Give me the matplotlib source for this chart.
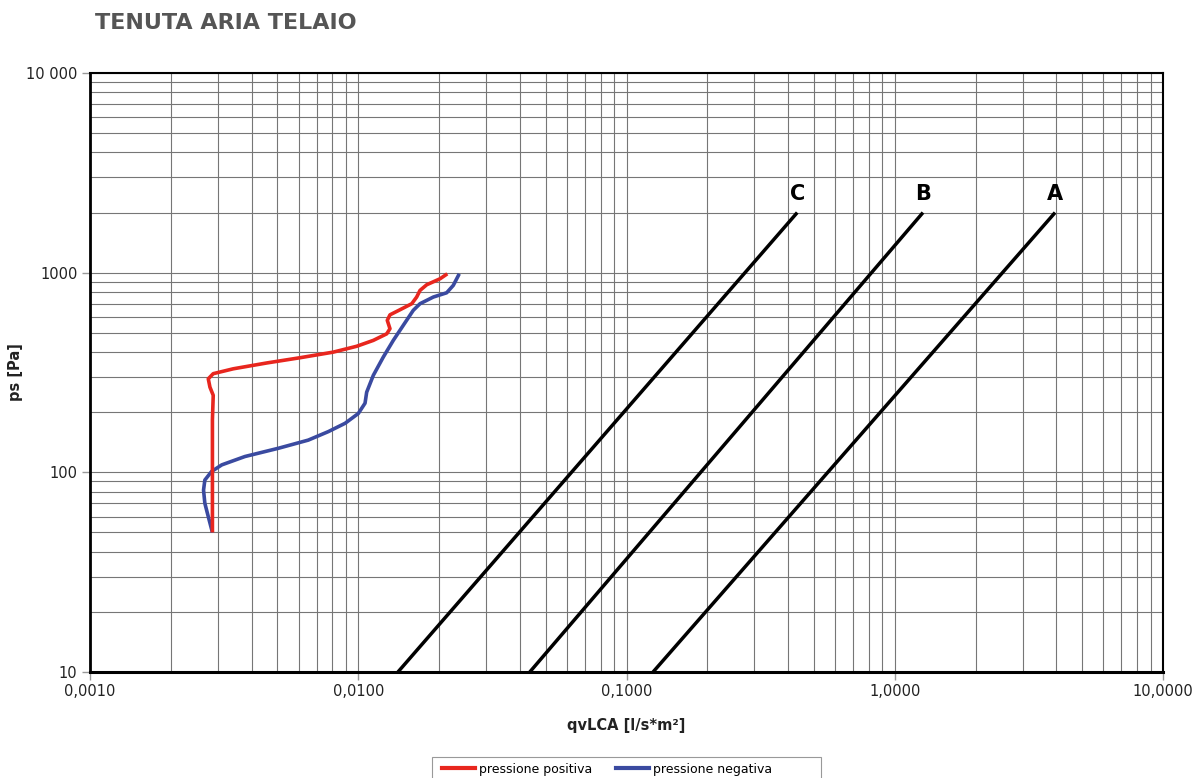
import matplotlib
matplotlib.use("Agg")
import matplotlib.pyplot as plt
from matplotlib.ticker import LogLocator, FixedLocator, NullFormatter
from matplotlib.lines import Line2D
from matplotlib.patches import Rectangle

plt.rcParams['font.family'] = ['DejaVu Sans']

# Measured leakage curves (flow qvLCA vs pressure ps)
pos_q = [0.00286, 0.00286, 0.00288, 0.00280, 0.00276, 0.00288, 0.00342, 0.00456,
         0.00607, 0.00807, 0.00987, 0.01138, 0.01277, 0.01313, 0.01283, 0.01313,
         0.01431, 0.01583, 0.01651, 0.01699, 0.01800, 0.02018, 0.02148]
pos_p = [50, 183, 243, 267, 294, 312, 330, 353,
         375, 400, 428, 458, 494, 524, 577, 615,
         652, 699, 755, 815, 870, 932, 987]

neg_q = [0.00286, 0.00276, 0.00268, 0.00265, 0.00268, 0.00284, 0.00310, 0.00378,
         0.00504, 0.00651, 0.00774, 0.00893, 0.01000, 0.01060, 0.01075, 0.01138,
         0.01240, 0.01351, 0.01472, 0.01604, 0.01699, 0.01905, 0.02136, 0.02261,
         0.02380]
neg_p = [50, 60, 70, 81.5, 91.5, 101, 109, 120,
         132, 145, 160, 176, 197, 222, 252, 306,
         378, 458, 545, 648, 699, 755, 793, 864,
         987]

# Classification limit lines (two end points each)
class_names = ['A', 'B', 'C']
class_p = [10, 2000]
class_q = {'A': [0.1256, 3.96], 'B': [0.0436, 1.274], 'C': [0.01406, 0.433]}

x_ticks = [0.001, 0.01, 0.1, 1, 10]
x_tick_labels = ['0,0010', '0,0100', '0,1000', '1,0000', '10,0000']
y_ticks = [10, 100, 1000, 10000]
y_tick_labels = ['10', '100', '1000', '10 000']

W, H = 1201, 778
fig = plt.figure(figsize=(W / 100, H / 100), dpi=100)
ax = fig.add_axes([90 / W, 1 - 672 / H, (1163 - 90) / W, (672 - 73) / H])
ax.set_xscale('log')
ax.set_yscale('log')
ax.set_xlim(0.001, 10)
ax.set_ylim(10, 10000)

ax.xaxis.set_major_locator(FixedLocator(x_ticks))
ax.yaxis.set_major_locator(FixedLocator(y_ticks))
ax.xaxis.set_minor_locator(LogLocator(base=10, subs=range(2, 10)))
ax.yaxis.set_minor_locator(LogLocator(base=10, subs=range(2, 10)))
ax.xaxis.set_minor_formatter(NullFormatter())
ax.yaxis.set_minor_formatter(NullFormatter())
ax.set_xticklabels(x_tick_labels)
ax.set_yticklabels(y_tick_labels)

ax.grid(True, which='both', color='#767676', lw=0.8)
ax.set_axisbelow(True)
ax.tick_params(which='major', length=6, width=1, color='#999999',
               labelsize=10.5, labelcolor='#222222', pad=3)
ax.tick_params(which='minor', length=0)

for s in ax.spines.values():
    s.set_color('black')
    s.set_linewidth(1.5)
ax.spines['bottom'].set_linewidth(2.2)
ax.spines['left'].set_linewidth(2.0)

for name in class_names:
    q = class_q[name]
    ax.plot(q, class_p, color='black', lw=2.5, solid_capstyle='butt', zorder=3)
    ax.annotate(name, (q[1], class_p[1]), xytext=(0, 6), textcoords='offset points',
                ha='center', va='bottom', fontsize=15, fontweight='bold', color='black')

ax.plot(neg_q, neg_p, color='#3a4aa0', lw=2.6, zorder=4,
        solid_joinstyle='round', solid_capstyle='butt')
ax.plot(pos_q, pos_p, color='#e8261e', lw=2.6, zorder=5,
        solid_joinstyle='round', solid_capstyle='butt')

ax.set_xlabel('qvLCA [l/s*m²]', fontsize=10.5, fontweight='bold', color='#222222')
ax.xaxis.set_label_coords(0.5, -(718 - 672) / (672 - 73))
ax.set_ylabel('ps [Pa]', fontsize=10.5, fontweight='bold', color='#222222')
ax.yaxis.set_label_coords((23 - 90) / (1163 - 90), 0.5)

fig.text(95 / W, 1 - 23 / H, 'TENUTA ARIA TELAIO', fontsize=16, fontweight='bold',
         color='#555555', ha='left', va='center')

# Legend with a fixed-size box
fig.patches.append(Rectangle((432 / W, -0.01), (821 - 432) / W, 0.01 + (778 - 757) / H,
                             transform=fig.transFigure, facecolor='white',
                             edgecolor='#999999', lw=0.8))
handles = [Line2D([], [], color='#e8261e', lw=3),
           Line2D([], [], color='#3a4aa0', lw=3)]
leg = fig.legend(handles, ['pressione positiva', 'pressione negativa'], ncol=2,
                 loc='center left', bbox_to_anchor=(436 / W, 1 - 769 / H), fontsize=9,
                 frameon=False, handlelength=2.6, handletextpad=0.35,
                 columnspacing=1.9, borderpad=0.0)

fig.savefig('out.png', dpi=100)
